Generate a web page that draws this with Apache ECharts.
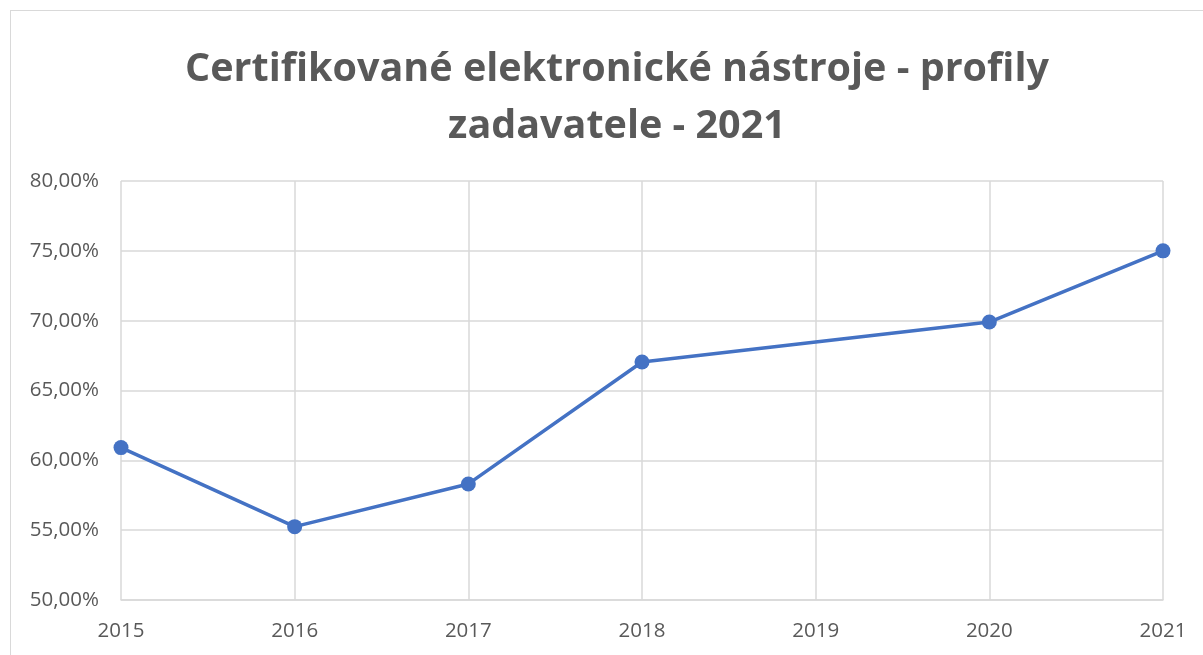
<!DOCTYPE html>
<html>
<head>
<meta charset="utf-8">
<script src="https://cdn.jsdelivr.net/npm/echarts@6/dist/echarts.min.js"></script>
<style>
  html, body { margin: 0; padding: 0; background: #fff; }
  #chart { width: 1203px; height: 655px; }
  #frame { position: absolute; left: 10px; top: 10px; width: 1200px; height: 700px;
           border: 1px solid #d9d9d9; pointer-events: none; }
</style>
</head>
<body>
<div id="chart"></div>
<div id="frame"></div>
<script>
// data
const years = [2015, 2016, 2017, 2018, 2020, 2021];
const shares = [60.91, 55.25, 58.31, 67.04, 69.90, 75.00];
const titleText = 'Certifikované elektronické nástroje - profily\nzadavatele - 2021';

const chart = echarts.init(document.getElementById('chart'));

const option = {
  animation: false,
  title: {
    text: titleText,
    left: 612,
    textAlign: 'center',
    top: 36,
    textStyle: {
      fontFamily: 'Open Sans',
      fontWeight: 'bold',
      fontSize: 39.5,
      color: '#595959',
      lineHeight: 57
    }
  },
  grid: { left: 121, right: 40, top: 181, bottom: 55 },
  xAxis: {
    type: 'value',
    min: 2015,
    max: 2021,
    interval: 1,
    axisLine: { show: true, lineStyle: { color: '#d9d9d9', width: 1.5 } },
    axisTick: { show: false },
    splitLine: { show: true, lineStyle: { color: '#d9d9d9', width: 1.5 } },
    axisLabel: {
      color: '#595959',
      fontFamily: 'Open Sans',
      fontSize: 20.5,
      margin: 21,
      formatter: (v) => String(v)
    }
  },
  yAxis: {
    type: 'value',
    min: 50,
    max: 80,
    interval: 5,
    axisLine: { show: false },
    axisTick: { show: false },
    splitLine: { show: true, lineStyle: { color: '#d9d9d9', width: 1.5 } },
    axisLabel: {
      color: '#595959',
      fontFamily: 'Open Sans',
      fontSize: 20.5,
      margin: 22,
      formatter: (v) => v.toFixed(2).replace('.', ',') + '%'
    }
  },
  series: [{
    type: 'line',
    data: years.map((y, i) => [y, shares[i]]),
    symbol: 'circle',
    symbolSize: 15,
    lineStyle: { color: '#4472C4', width: 3.5 },
    itemStyle: { color: '#4472C4' }
  }]
};
chart.setOption(option);
</script>
</body>
</html>
